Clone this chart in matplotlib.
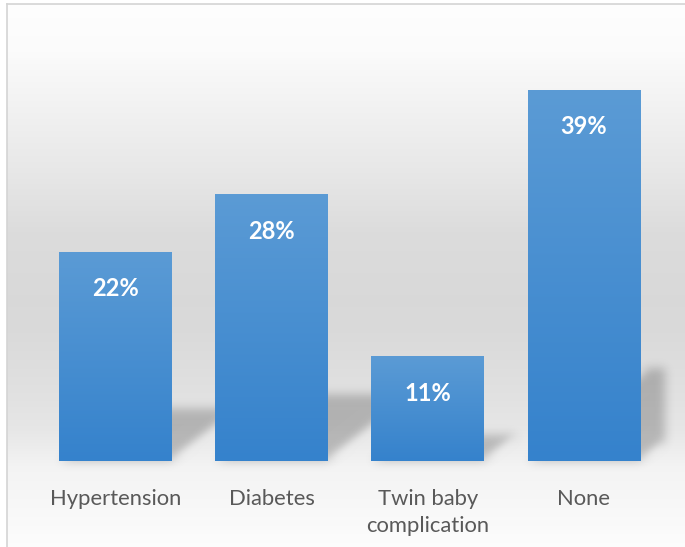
import numpy as np
import matplotlib
matplotlib.use('Agg')
import matplotlib.pyplot as plt
from matplotlib.patches import Polygon
from matplotlib.lines import Line2D

# data for the chart
categories = ['Hypertension', 'Diabetes', 'Twin baby\ncomplication', 'None']
percent = [22, 28, 11, 39]
value_labels = ['22%', '28%', '11%', '39%']

bar_top = np.array([0x5b, 0x9b, 0xd5]) / 255.0
bar_bottom = np.array([0x35, 0x82, 0xcc]) / 255.0


def blur(image, dpi, sigma=5.0):
    # simple separable gaussian blur used as agg_filter for the shadows
    pad = int(3 * sigma)
    img = np.pad(image, [(pad, pad), (pad, pad), (0, 0)])
    taps = np.arange(-pad, pad + 1)
    k = np.exp(-0.5 * (taps / sigma) ** 2)
    k /= k.sum()
    out = np.zeros_like(img)
    for t, w in zip(taps, k):
        out += w * np.roll(img, t, axis=0)
    img = out
    out = np.zeros_like(img)
    for t, w in zip(taps, k):
        out += w * np.roll(img, t, axis=1)
    return out, -pad, -pad


fig = plt.figure(figsize=(6.85, 5.47), dpi=100)
fig.patch.set_facecolor('white')

# grey background gradient of the chart area
W, H = 685, 547
bg = fig.add_axes([7 / W, 0, 1 - 7 / W, (H - 4) / H], zorder=0)
rows = np.arange(4, H)
stops_y = [4, 50, 100, 167, 233, 300, 333, 367, 400, 430, 467, 547]
stops_v = [0.995, 0.985, 0.953, 0.91, 0.862, 0.85, 0.855, 0.87, 0.886, 0.905, 0.955, 0.99]
grey = np.interp(rows, stops_y, stops_v)
bg.imshow(np.repeat(grey[:, None], 3, axis=1)[:, :, None] * np.ones((1, 1, 3)),
          aspect='auto', extent=[0, 1, 0, 1], interpolation='bilinear')
bg.axis('off')

# chart border (top and left)
fig.add_artist(Line2D([7 / W, 1], [(H - 4) / H] * 2, color='#d4d4d4', lw=1.2))
fig.add_artist(Line2D([7 / W] * 2, [0, (H - 4) / H], color='#d4d4d4', lw=1.2))

ax = fig.add_axes([37.4 / W, 86 / H, (665 - 37.4) / W, 428 / H], zorder=1)
ax.set_facecolor('none')

x = np.arange(len(categories))
width = 0.72

# perspective shadows behind the bars
for xi, h in zip(x, percent):
    sh = 0.25 * h
    shift = 0.079 * sh
    poly = Polygon([(xi - width / 2, 0), (xi + width / 2, 0),
                    (xi + width / 2 + shift, sh), (xi - width / 2 + shift, sh)],
                   closed=True, facecolor='black', alpha=0.22, edgecolor='none',
                   zorder=1)
    poly.set_agg_filter(blur)
    ax.add_patch(poly)

bars = ax.bar(x, percent, width=width, color='none', edgecolor='none', zorder=2)

# vertical gradient fill inside each bar
grad = np.linspace(0, 1, 256)[:, None]
grad_img = bar_top[None, None, :] * (1 - grad[:, :, None]) + bar_bottom[None, None, :] * grad[:, :, None]
for b in bars:
    x0 = b.get_x()
    im = ax.imshow(grad_img, aspect='auto', interpolation='bilinear',
                   extent=[x0, x0 + b.get_width(), 0, b.get_height()], zorder=3)
    im.set_clip_path(b)

ax.set_xlim(-0.5, 3.52)
ax.set_ylim(0, 44.95)

for xi, h, lab in zip(x, percent, value_labels):
    ax.text(xi, h - 3.9, lab, ha='center', va='center', color='white',
            fontsize=17, fontweight='bold', family=['Lato', 'DejaVu Sans'], zorder=4)

ax.set_xticks(x)
ax.set_xticklabels(categories, fontsize=15.8, color='#595959', family=['Lato', 'DejaVu Sans'],
                   linespacing=1.4)
ax.tick_params(axis='x', length=0, pad=20.5)
ax.set_yticks([])
for s in ax.spines.values():
    s.set_visible(False)

plt.savefig('out.png', dpi=100)
